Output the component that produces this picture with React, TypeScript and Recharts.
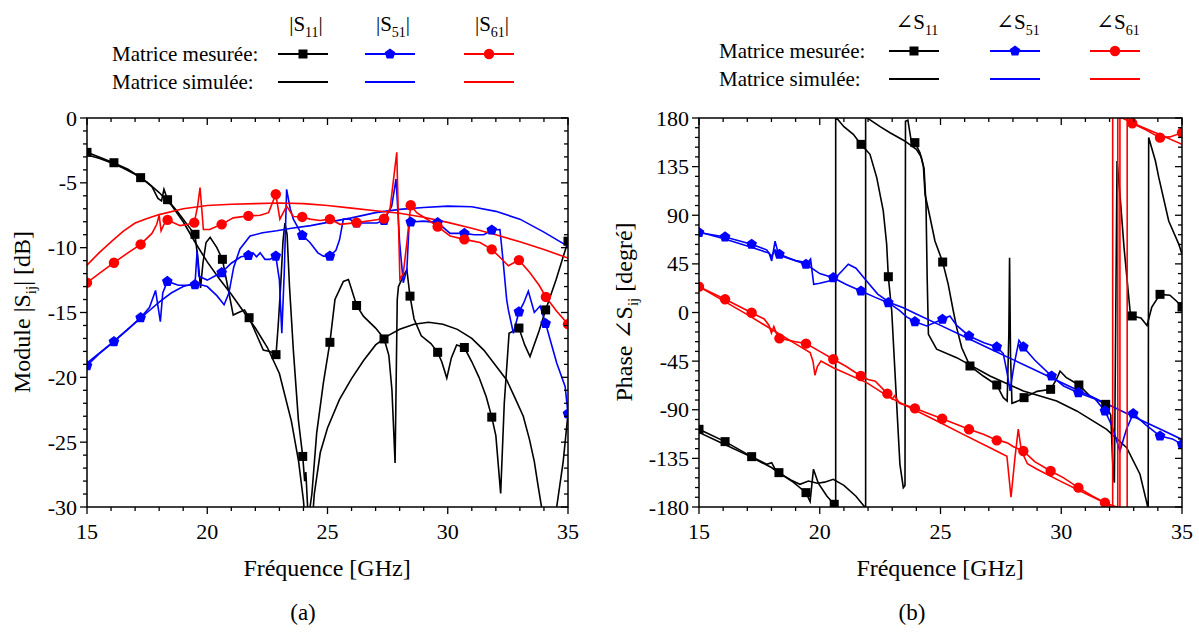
import React from 'react';
import { ComposedChart, Line, XAxis, YAxis } from 'recharts';

type Pt = [number, number];

// ---- axis ticks ----
const freqMajor = [15, 20, 25, 30, 35];
const magMajor = [-30, -25, -20, -15, -10, -5, 0];
const phaseMajor = [-180, -135, -90, -45, 0, 45, 90, 135, 180];

// ---- (a) module |Sij| [dB] ----
const magS11Meas: Pt[] = [
  [15, -2.65], [15.5, -3.0], [16.1, -3.45], [16.7, -3.95], [17.2, -4.55], [17.7, -5.3], [17.95, -6.2], [18.1, -6.4],
  [18.2, -5.5], [18.35, -6.3], [18.8, -7.3], [19.2, -8.3], [19.49, -9.0], [19.62, -11], [19.72, -13.1], [19.82, -11.2],
  [19.95, -9.6], [20.12, -9.2], [20.4, -10.0], [20.63, -10.9], [20.85, -13.0], [21.08, -15.2], [21.3, -15.0], [21.55, -14.8],
  [21.74, -15.4], [22.0, -16.5], [22.33, -17.9], [22.6, -18.0], [22.86, -18.25], [22.95, -16.0], [23.05, -13.0], [23.15, -9.5],
  [23.23, -8.1], [23.32, -9.0], [23.42, -13.0], [23.58, -17.9], [23.79, -23.3], [23.97, -26.1], [24.05, -28.0], [24.1, -27.3],
  [24.2, -31], [24.35, -29], [24.55, -24.3], [24.83, -20.4], [25.1, -17.3], [25.31, -14.0], [25.66, -12.6], [25.87, -12.45],
  [26.0, -13.2], [26.21, -14.46], [26.5, -15.3], [27.0, -16.2], [27.35, -17.0], [27.55, -18.3], [27.68, -21], [27.81, -26.6],
  [27.9, -14], [27.95, -13.0], [28.15, -12.2], [28.3, -11.7], [28.43, -13.74], [28.6, -15.5], [28.9, -16.8], [29.3, -17.4],
  [29.58, -18.07], [29.75, -18.8], [29.96, -20.06], [30.15, -18.5], [30.37, -17.5], [30.69, -17.7], [31.0, -18.8], [31.3, -20.0],
  [31.6, -21.5], [31.83, -23.07], [32.0, -24.5], [32.2, -28.95], [32.35, -22], [32.55, -16.6], [32.96, -16.2], [33.2, -17.5],
  [33.42, -18.4], [33.8, -16.4], [34.07, -14.8], [34.5, -12.5], [35, -9.5],
];
const magS11Marks: Pt[] = [
  [15, -2.65], [16.12, -3.45], [17.23, -4.6], [18.35, -6.3], [19.49, -8.97], [20.63, -10.9], [21.74, -15.4], [22.86, -18.25],
  [23.97, -26.1], [25.1, -17.3], [26.21, -14.46], [27.35, -17.04], [28.43, -13.74], [29.58, -18.07], [30.69, -17.7],
  [31.83, -23.07], [32.96, -16.2], [34.07, -14.8], [35, -9.5],
];
const magS11Sim: Pt[] = [
  [15, -2.85], [15.5, -3.1], [16, -3.45], [16.5, -3.85], [17, -4.35], [17.5, -4.95], [18, -5.75], [18.5, -6.7], [19, -8.0],
  [19.5, -9.6], [20, -11.1], [20.5, -12.4], [21, -13.6], [21.5, -14.9], [22, -16.2], [22.5, -17.7], [23, -19.7], [23.5, -23.4],
  [23.8, -26.5], [24, -29.5], [24.15, -33], [24.3, -33], [24.45, -29], [24.7, -25.8], [25, -23.9], [25.5, -21.7], [26, -20.1],
  [26.5, -18.7], [27, -17.5], [27.5, -16.8], [28, -16.3], [28.6, -15.9], [29.2, -15.75], [29.8, -15.9], [30.4, -16.3],
  [31, -17.0], [31.5, -17.9], [32, -19.1], [32.45, -20.2], [32.8, -21.6], [33.14, -23], [33.4, -24.8], [33.6, -26.5],
  [33.75, -28.3], [33.9, -30], [34.1, -33], [34.3, -33], [34.53, -30], [34.8, -26.5], [35, -22.8],
];
const magS51Meas: Pt[] = [
  [15, -19.1], [15.5, -18.2], [16.12, -17.25], [16.7, -16.3], [17.23, -15.4], [17.6, -14.6], [17.85, -13.3], [17.95, -14.5],
  [18.05, -15.7], [18.15, -13.5], [18.34, -12.6], [18.8, -12.9], [19.2, -12.9], [19.49, -12.85], [19.58, -10.2], [19.65, -12.2],
  [20.0, -12.5], [20.3, -12.2], [20.6, -11.93], [21.0, -11.2], [21.4, -10.7], [21.71, -10.6], [21.9, -10.4], [22.05, -10.7],
  [22.2, -10.4], [22.4, -10.9], [22.6, -10.9], [22.85, -10.65], [23.0, -12.5], [23.1, -16.6], [23.2, -12], [23.3, -5.5],
  [23.45, -7.0], [23.58, -7.8], [23.95, -9.05], [24.27, -9.6], [24.6, -10.4], [24.83, -10.65], [25.1, -10.65], [25.35, -10.2],
  [25.5, -9.4], [25.66, -7.8], [25.9, -7.8], [26.21, -8.1], [26.6, -8.1], [27.06, -8.1], [27.35, -7.9], [27.67, -6.8],
  [27.85, -4.7], [28.0, -9.6], [28.15, -12.7], [28.3, -11.7], [28.4, -7.9], [28.46, -8.02], [29.0, -7.95], [29.58, -8.07],
  [30.1, -8.9], [30.69, -8.9], [31.1, -9.0], [31.5, -9.0], [31.83, -8.64], [32.17, -8.6], [32.3, -11], [32.45, -14],
  [32.52, -14.8], [32.73, -16.6], [32.96, -14.95], [33.15, -14.3], [33.35, -13.36], [33.6, -15], [33.84, -14.5],
  [34.07, -15.85], [34.53, -18.9], [34.88, -20.7], [35, -22.8],
];
const magS51Marks: Pt[] = [
  [15, -19.1], [16.12, -17.25], [17.23, -15.4], [18.34, -12.6], [19.49, -12.85], [20.6, -11.93], [21.71, -10.6],
  [22.85, -10.65], [23.95, -9.05], [25.1, -10.65], [26.21, -8.1], [27.35, -7.9], [28.46, -8.02], [29.58, -8.07],
  [30.69, -8.9], [31.83, -8.64], [32.96, -14.95], [34.07, -15.85], [35, -22.8],
];
const magS51Sim: Pt[] = [
  [15, -18.9], [16, -17.4], [17, -15.8], [17.5, -15.0], [18, -14.2], [18.5, -13.5], [19, -13.0], [19.5, -12.75], [20, -13.0],
  [20.4, -13.7], [20.7, -14.4], [20.9, -13.5], [21.1, -11.5], [21.36, -10.1], [21.78, -9.1], [22.3, -8.85], [22.89, -8.7],
  [23.5, -8.5], [24.3, -8.3], [25, -8.05], [26, -7.7], [27, -7.3], [28, -7.05], [29, -6.9], [30, -6.8], [31, -6.85],
  [32, -7.2], [33, -7.8], [34, -8.8], [35, -9.9],
];
const magS61Meas: Pt[] = [
  [15, -12.7], [15.5, -12.0], [16.12, -11.16], [16.7, -10.4], [17.23, -9.75], [17.7, -8.9], [17.9, -8.2], [18.0, -7.5],
  [18.08, -8.7], [18.2, -8.2], [18.35, -7.86], [18.87, -8.3], [19.2, -8.2], [19.46, -8.07], [19.6, -6.8], [19.7, -5.36],
  [19.84, -8.6], [20.1, -8.6], [20.6, -8.2], [21.08, -7.7], [21.71, -7.55], [22.2, -7.5], [22.55, -7.3], [22.85, -5.88],
  [23.02, -7.8], [23.3, -6.8], [23.58, -7.6], [23.95, -7.63], [24.27, -7.8], [24.69, -7.9], [25.1, -7.8], [25.52, -8.2],
  [26.21, -8.07], [27.05, -7.85], [27.35, -7.76], [27.6, -7.0], [27.88, -2.65], [28.01, -12.45], [28.15, -12.0], [28.3, -9.6],
  [28.46, -6.73], [28.71, -7.3], [29.3, -8.0], [29.58, -8.38], [30.1, -9.1], [30.69, -9.36], [31.34, -9.6], [31.83, -10.13],
  [32.2, -10.8], [32.52, -11.4], [32.96, -10.96], [33.4, -11.9], [33.8, -12.9], [34.08, -13.8], [34.53, -14.9], [35, -15.9],
];
const magS61Marks: Pt[] = [
  [15, -12.7], [16.12, -11.16], [17.23, -9.75], [18.35, -7.86], [19.46, -8.07], [20.6, -8.2], [21.71, -7.55], [22.85, -5.88],
  [23.95, -7.63], [25.1, -7.8], [26.21, -8.07], [27.35, -7.76], [28.46, -6.73], [29.58, -8.38], [30.69, -9.36],
  [31.83, -10.13], [32.96, -10.96], [34.08, -13.8], [35, -15.9],
];
const magS61Sim: Pt[] = [
  [15, -11.35], [15.5, -10.4], [16, -9.55], [16.5, -8.75], [17, -8.1], [17.5, -7.75], [18, -7.45], [19, -7.0], [20, -6.75],
  [21, -6.65], [22, -6.6], [23, -6.55], [24, -6.6], [25, -6.75], [26, -6.95], [27, -7.15], [28, -7.35], [29, -7.65],
  [30, -8.05], [31, -8.5], [32, -9.0], [33, -9.55], [34, -10.15], [35, -10.8],
];

// ---- (b) phase ∠Sij [degré] ----
const phS11Meas: Pt[] = [
  [15, -108.1], [16.08, -119.5], [17.18, -133.4], [17.8, -140.5], [18.01, -139], [18.15, -145], [18.31, -148.2], [18.9, -157],
  [19.43, -166.7], [19.6, -175], [19.74, -145], [19.94, -158], [20.3, -170], [20.6, -177.5], [20.66, -181], [20.66, 181],
  [21.0, 172], [21.39, 164.9], [21.71, 155.6], [22.08, 146.4], [22.36, 124.8], [22.63, 94], [22.77, 63.4], [22.84, 33.1],
  [22.98, 1.4], [23.15, -70], [23.32, -140.5], [23.46, -162.1], [23.53, -160], [23.55, 177], [23.65, 178], [23.72, 168],
  [23.81, 155.7], [23.94, 157.2], [24.15, 147.9], [24.29, 135.6], [24.36, 109.4], [24.57, 87.7], [24.77, 66.2], [25.09, 46.7],
  [25.32, 26.1], [25.53, 1.4], [25.67, -14], [25.88, -32.6], [26.22, -49.5], [26.77, -58.8], [27.33, -67.1], [27.6, -78.8],
  [27.76, -82], [27.83, -20], [27.86, 50.7], [27.9, -40], [27.96, -84], [28.2, -82], [28.46, -78.8], [29.0, -73],
  [29.56, -71.1], [29.8, -62], [29.95, -54.2], [30.2, -60], [30.73, -67.1], [31.19, -77.3], [31.84, -85], [32.05, -95],
  [32.15, -150], [32.2, -157.5], [32.25, -20], [32.31, 140.2], [32.43, 109.4], [32.6, 60], [32.85, 1.4], [32.94, -3.2],
  [33.3, -5], [33.55, -12], [33.75, 5], [34.09, 16.8], [34.5, 16], [34.8, 10], [35, 5],
];
const phS11Marks: Pt[] = [
  [15, -108.1], [16.08, -119.5], [17.18, -133.4], [18.31, -148.2], [19.43, -166.7], [20.6, -177.5], [21.71, 155.6],
  [22.84, 33.1], [23.94, 157.2], [25.09, 46.7], [26.22, -49.5], [27.33, -67.1], [28.46, -78.8], [29.56, -71.1],
  [30.73, -67.1], [31.84, -85], [32.94, -3.2], [34.09, 16.8], [35, 5],
];
const phS11Sim: Pt[] = [
  [15, -111], [16, -121.5], [17, -132], [18, -143.5], [18.35, -149], [18.8, -155], [19.18, -159], [19.53, -156], [19.9, -158],
  [20.2, -157], [20.56, -154.4], [21, -160], [21.5, -170], [21.9, -181], [21.9, 181], [22.5, 172], [22.91, 166.4], [23.5, 159],
  [24, 151], [24.2, 144], [24.32, 133], [24.4, 100], [24.45, 30], [24.5, -20.2], [24.84, -34], [25.67, -41.8], [27.05, -58.8],
  [28.43, -72.6], [29.81, -81.9], [30.64, -91.1], [31.88, -108.1], [32.71, -125.1], [33.26, -149.7], [33.54, -176],
  [33.6, -182], [33.62, 162], [33.9, 140.2], [34.04, 124.8], [34.45, 84.7], [34.87, 63.1], [35, 53.9],
];
const phS51Meas: Pt[] = [
  [15, 74], [16.08, 69.9], [17.18, 63.1], [17.8, 58], [18.0, 52], [18.15, 58], [18.33, 53.9], [19.0, 48], [19.43, 44.6],
  [20.0, 36], [20.56, 32.2], [21.1, 26], [21.71, 19.9], [22.3, 14], [22.84, 9.1], [23.3, 2], [23.6, -4], [23.94, -8.5],
  [24.43, -12.5], [25.08, -6.3], [25.39, -3.2], [25.67, -12], [26.18, -21.7], [26.8, -28], [27.33, -31.9], [27.6, -38],
  [27.75, -55], [27.88, -72.6], [28.05, -48], [28.25, -25.7], [28.43, -31.9], [28.9, -44], [29.6, -58.8], [30.1, -68],
  [30.71, -74.2], [31.4, -80], [31.81, -91.1], [32.1, -105], [32.43, -128.2], [32.7, -108], [32.98, -93.6], [33.5, -104],
  [34.09, -114.3], [34.6, -117], [35, -122],
];
const phS51Marks: Pt[] = [
  [15, 74], [16.08, 69.9], [17.18, 63.1], [18.33, 53.9], [19.43, 44.6], [20.56, 32.2], [21.71, 19.9], [22.84, 9.1],
  [23.94, -8.5], [25.08, -6.3], [26.18, -21.7], [27.33, -31.9], [28.43, -31.9], [29.6, -58.8], [30.71, -74.2],
  [31.81, -91.1], [32.98, -93.6], [34.09, -114.3], [35, -122],
];
const phS51Sim: Pt[] = [
  [15, 74.5], [16, 68.5], [17, 61.5], [17.9, 55], [18.01, 47.7], [18.15, 66], [18.3, 53], [19, 48], [19.5, 46], [19.62, 49.5],
  [19.75, 26], [20.0, 27], [20.56, 30], [20.9, 38], [21.18, 44.6], [21.5, 41], [21.94, 29.2], [22.4, 17], [22.91, 9.1],
  [23.46, 4.4], [24, -1.3], [25, -11.9], [26, -22.4], [27, -33], [28, -43.6], [29, -54.1], [30, -64.7], [31, -75.2],
  [32, -85.8], [33, -96.4], [34, -106.9], [35, -117.5],
];
const phS61Meas: Pt[] = [
  [15, 23.9], [16.08, 12.2], [17.18, -0.2], [17.7, -6], [17.9, -12], [18.0, -19], [18.1, -13], [18.2, -19], [18.33, -23.9],
  [19.0, -27], [19.43, -28.8], [20.0, -36], [20.56, -43.3], [21.1, -50], [21.7, -58.8], [22.0, -62], [22.3, -63.5],
  [22.8, -75.1], [23.0, -80], [23.1, -77], [23.3, -84], [23.94, -88.7], [24.5, -93.5], [25.07, -98.3], [25.6, -103],
  [26.18, -108.1], [26.8, -113], [27.33, -118.3], [27.6, -119.5], [27.8, -121], [28.0, -124], [28.43, -128.2], [28.9, -138],
  [29.56, -146.7], [30.1, -153], [30.71, -162.1], [31.3, -170], [31.81, -176], [32.13, -181], [32.13, 181], [32.34, 181],
  [32.34, -181], [32.73, -181], [32.73, 181], [32.94, 175.1], [33.5, 169], [34.09, 161.8], [34.5, 162.5], [35, 166.4],
];
const phS61Marks: Pt[] = [
  [15, 23.9], [16.08, 12.2], [17.18, -0.2], [18.33, -23.9], [19.43, -28.8], [20.56, -43.3], [21.7, -58.8], [22.8, -75.1],
  [23.94, -88.7], [25.07, -98.3], [26.18, -108.1], [27.33, -118.3], [28.43, -128.2], [29.56, -146.7], [30.71, -162.1],
  [31.81, -176], [32.94, 175.1], [34.09, 161.8], [35, 166.4],
];
const phS61Sim: Pt[] = [
  [15, 24], [16, 11], [17, -2], [18, -15.5], [19, -29], [19.6, -37], [19.72, -45], [19.8, -58], [19.9, -50], [20.05, -45],
  [20.56, -51.1], [21.94, -64.9], [22.91, -78.8], [24, -91], [25, -102], [26, -113.5], [27.05, -125.1], [27.75, -133],
  [27.92, -171], [28.08, -135], [28.22, -108], [28.35, -128], [28.6, -140], [29, -145], [30, -156.5], [31, -167.5],
  [31.8, -176], [32.43, -181], [32.43, 181], [33, 175], [34, 165.5], [35, 155.7],
];

// ---- layout ----
const FONT = "'Liberation Serif', 'Times New Roman', Tinos, 'DejaVu Serif', serif";
const TXT = { fontFamily: FONT };
const H = 632;
const TOP = 118;
const BOTTOM = 507;
const BLACK = '#000000';
const BLUE = '#0000ff';
const RED = '#ff0000';

type Shape = 'square' | 'pentagon' | 'circle';

const Marker = ({ cx, cy, shape, color }: { cx: number; cy: number; shape: Shape; color: string }) => {
  if (cx == null || cy == null) return null;
  if (shape === 'square') return <rect x={cx - 4.5} y={cy - 4.5} width={9} height={9} fill={color} />;
  if (shape === 'circle') return <circle cx={cx} cy={cy} r={5.2} fill={color} />;
  const r = 5.6;
  const pts = [0, 1, 2, 3, 4]
    .map((i) => {
      const a = ((-90 + 72 * i) * Math.PI) / 180;
      return `${cx + r * Math.cos(a)},${cy + r * Math.sin(a)}`;
    })
    .join(' ');
  return <polygon points={pts} fill={color} />;
};

const rows = (pts: Pt[]) => pts.map(([f, v]) => ({ f, v }));

// every 1 GHz, major every 5
const freqTicks = freqMajor.flatMap((t, i) => (i === 0 ? [t] : [t - 4, t - 3, t - 2, t - 1, t]));

const FreqTick = (props: any) => {
  const { x, payload } = props;
  const major = freqMajor.includes(payload.value);
  const len = major ? 7 : 4;
  return (
    <g>
      <line x1={x} x2={x} y1={BOTTOM} y2={BOTTOM + len} stroke={BLACK} strokeWidth={1.3} />
      <line x1={x} x2={x} y1={TOP} y2={TOP + len} stroke={BLACK} strokeWidth={1.3} />
      {major && (
        <text x={x} y={BOTTOM + 32} textAnchor="middle" fontSize={22} style={TXT} fill={BLACK}>
          {payload.value}
        </text>
      )}
    </g>
  );
};

const ValTick = (props: any) => {
  const { y, payload, left, right, majors } = props;
  const major = majors.includes(payload.value);
  const len = major ? 7 : 4;
  return (
    <g>
      <line x1={left} x2={left - len} y1={y} y2={y} stroke={BLACK} strokeWidth={1.3} />
      <line x1={right} x2={right - len} y1={y} y2={y} stroke={BLACK} strokeWidth={1.3} />
      {major && (
        <text x={left - 10} y={y + 7.5} textAnchor="end" fontSize={22} style={TXT} fill={BLACK}>
          {payload.value}
        </text>
      )}
    </g>
  );
};

type Series = { pts: Pt[]; color: string; marks?: Pt[]; shape?: Shape };

const Panel = ({
  width, left, right, domain, majors, series,
}: { width: number; left: number; right: number; domain: [number, number]; majors: number[]; series: Series[] }) => {
  const step = (majors[1] - majors[0]) / 5;
  const ticks = majors.flatMap((t, i) => (i === 0 ? [t] : [1, 2, 3, 4, 5].map((k) => majors[i - 1] + k * step)));
  return (
    <ComposedChart width={width} height={H} margin={{ top: TOP, right: width - right, bottom: H - BOTTOM - 30, left: 0 }}>
      <XAxis
        type="number" dataKey="f" domain={[15, 35]} ticks={freqTicks} interval={0} allowDataOverflow
        height={30} axisLine={false} tickLine={false} tick={(p: any) => <FreqTick {...p} />}
      />
      <YAxis
        type="number" domain={domain} ticks={ticks} interval={0} allowDataOverflow width={left}
        axisLine={false} tickLine={false}
        tick={(p: any) => <ValTick {...p} left={left} right={right} majors={majors} />}
      />
      {series.flatMap((s, i) => {
        const out = [
          <Line
            key={`l${i}`} data={rows(s.pts)} dataKey="v" type="linear" stroke={s.color} strokeWidth={1.6}
            dot={false} activeDot={false} isAnimationActive={false} legendType="none"
          />,
        ];
        if (s.marks) {
          out.push(
            <Line
              key={`m${i}`} data={rows(s.marks)} dataKey="v" stroke="none" activeDot={false} isAnimationActive={false}
              legendType="none"
              dot={(p: any) => <Marker key={`d${i}-${p.index}`} cx={p.cx} cy={p.cy} shape={s.shape as Shape} color={s.color} />}
            />,
          );
        }
        return out;
      })}
    </ComposedChart>
  );
};

const Sub = ({ children, size = 14 }: { children: React.ReactNode; size?: number }) => (
  <tspan fontSize={size} dy={6}>{children}</tspan>
);

const LegendBlock = ({
  x0, rowY, headY, cols, heads,
}: { x0: number; rowY: [number, number]; headY: number; cols: { a: number; b: number; color: string; shape: Shape }[]; heads: React.ReactNode[] }) => (
  <g style={TXT} fill={BLACK}>
    <text x={x0} y={rowY[0] + 7} fontSize={21} style={TXT}>Matrice mesurée:</text>
    <text x={x0} y={rowY[1] + 7} fontSize={21} style={TXT}>Matrice simulée:</text>
    {cols.map((c, i) => (
      <g key={i}>
        <line x1={c.a} x2={c.b} y1={rowY[0]} y2={rowY[0]} stroke={c.color} strokeWidth={2} />
        <Marker cx={(c.a + c.b) / 2} cy={rowY[0]} shape={c.shape} color={c.color} />
        <line x1={c.a} x2={c.b} y1={rowY[1]} y2={rowY[1]} stroke={c.color} strokeWidth={2} />
        <text x={(c.a + c.b) / 2 + 3} y={headY + 7} textAnchor="middle" fontSize={21} style={TXT}>{heads[i]}</text>
      </g>
    ))}
  </g>
);

export default function App() {
  const magSeries: Series[] = [
    { pts: magS11Sim, color: BLACK },
    { pts: magS11Meas, color: BLACK, marks: magS11Marks, shape: 'square' },
    { pts: magS51Sim, color: BLUE },
    { pts: magS51Meas, color: BLUE, marks: magS51Marks, shape: 'pentagon' },
    { pts: magS61Sim, color: RED },
    { pts: magS61Meas, color: RED, marks: magS61Marks, shape: 'circle' },
  ];
  const phSeries: Series[] = [
    { pts: phS11Sim, color: BLACK },
    { pts: phS11Meas, color: BLACK, marks: phS11Marks, shape: 'square' },
    { pts: phS51Sim, color: BLUE },
    { pts: phS51Meas, color: BLUE, marks: phS51Marks, shape: 'pentagon' },
    { pts: phS61Sim, color: RED },
    { pts: phS61Meas, color: RED, marks: phS61Marks, shape: 'circle' },
  ];
  const cols = (a: number[]) => [
    { a: a[0], b: a[0] + 50, color: BLACK, shape: 'square' as Shape },
    { a: a[1], b: a[1] + 50, color: BLUE, shape: 'pentagon' as Shape },
    { a: a[2], b: a[2] + 50, color: RED, shape: 'circle' as Shape },
  ];
  return (
    <div style={{ position: 'absolute', left: 0, top: 0, width: 1199, height: H, background: '#fff', fontFamily: FONT }}>
      <div style={{ position: 'absolute', left: 0, top: 0 }}>
        <Panel width={600} left={87} right={568} domain={[-30, 0]} majors={magMajor} series={magSeries} />
      </div>
      <div style={{ position: 'absolute', left: 600, top: 0 }}>
        <Panel width={599} left={99} right={582} domain={[-180, 180]} majors={phaseMajor} series={phSeries} />
      </div>
      <svg width={1199} height={H} style={{ position: 'absolute', left: 0, top: 0, pointerEvents: 'none', fontFamily: FONT }}>
        <rect x={87} y={TOP} width={481} height={BOTTOM - TOP} fill="none" stroke={BLACK} strokeWidth={1.5} />
        <rect x={699} y={TOP} width={483} height={BOTTOM - TOP} fill="none" stroke={BLACK} strokeWidth={1.5} />
        <g style={TXT} fill={BLACK} fontSize={24}>
          <text x={327} y={576} textAnchor="middle" style={TXT}>Fréquence [GHz]</text>
          <text x={940} y={576} textAnchor="middle" style={TXT}>Fréquence [GHz]</text>
          <text x={303} y={620} textAnchor="middle" fontSize={23} style={TXT}>(a)</text>
          <text x={912} y={620} textAnchor="middle" fontSize={23} style={TXT}>(b)</text>
          <text transform="translate(30,312) rotate(-90)" textAnchor="middle" style={TXT}>
            Module |S<Sub size={15}>ij</Sub><tspan dy={-6}>| [dB]</tspan>
          </text>
          <text transform="translate(632,312) rotate(-90)" textAnchor="middle" style={TXT}>
            Phase ∠S<Sub size={15}>ij</Sub><tspan dy={-6}> [degré]</tspan>
          </text>
        </g>
        <LegendBlock
          x0={112} rowY={[54, 82]} headY={24} cols={cols([278, 365, 464])}
          heads={[
            <>|S<Sub>11</Sub><tspan dy={-6}>|</tspan></>,
            <>|S<Sub>51</Sub><tspan dy={-6}>|</tspan></>,
            <>|S<Sub>61</Sub><tspan dy={-6}>|</tspan></>,
          ]}
        />
        <LegendBlock
          x0={719} rowY={[51, 79]} headY={22} cols={cols([889, 990, 1090])}
          heads={[
            <>∠S<Sub>11</Sub></>,
            <>∠S<Sub>51</Sub></>,
            <>∠S<Sub>61</Sub></>,
          ]}
        />
      </svg>
    </div>
  );
}
